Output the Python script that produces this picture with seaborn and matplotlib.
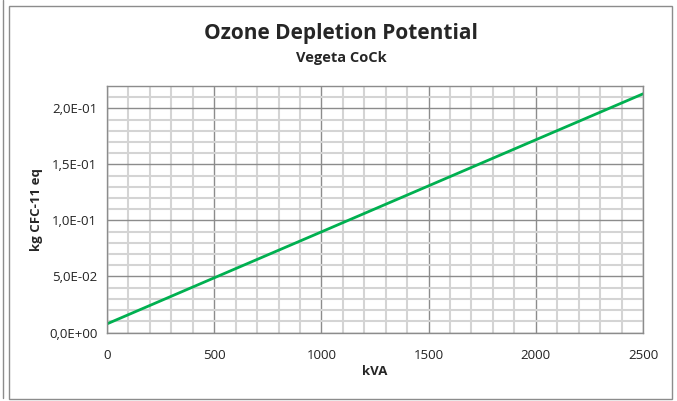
import numpy as np
import pandas as pd
import matplotlib
matplotlib.use('Agg')
import matplotlib.pyplot as plt
import seaborn as sns
from matplotlib.ticker import MultipleLocator, FuncFormatter
from matplotlib.patches import Rectangle
from matplotlib.lines import Line2D

# 数据
kva = [0, 500, 1000, 1500, 2000, 2500]
odp = [0.0077, 0.0488, 0.0898, 0.1309, 0.1720, 0.2130]

title = 'Ozone Depletion Potential'
subtitle = 'Vegeta CoCk'
x_label = 'kVA'
y_label = 'kg CFC-11 eq'

sns.set_style('white')
plt.rcParams['font.family'] = ['Open Sans', 'DejaVu Sans']

df = pd.DataFrame({'kVA': kva, 'ODP': odp})

fig = plt.figure(figsize=(6.77, 4.01), dpi=100)
W, H = 677, 401
ax = fig.add_axes([107 / W, 1 - 332.5 / H, (643 - 107) / W, (332.5 - 86) / H])

sns.lineplot(data=df, x='kVA', y='ODP', ax=ax, color='#00b050', linewidth=2.0)

ax.set_xlim(0, 2500)
ax.set_ylim(0, 0.22)
ax.xaxis.set_major_locator(MultipleLocator(500))
ax.xaxis.set_minor_locator(MultipleLocator(100))
ax.yaxis.set_major_locator(MultipleLocator(0.05))
ax.yaxis.set_minor_locator(MultipleLocator(0.01))


def sci_comma(v, pos):
    s = f'{v:.1E}'
    mant, exp = s.split('E')
    return f"{mant.replace('.', ',')}E{exp[0]}{exp[1:].zfill(2)}"


ax.yaxis.set_major_formatter(FuncFormatter(sci_comma))
ax.grid(which='minor', color='#d4d4d4', linewidth=1.5, zorder=0)
ax.grid(which='major', color='#8c8c8c', linewidth=1.0, zorder=1)
ax.set_axisbelow(True)

for side in ['left', 'bottom', 'right', 'top']:
    ax.spines[side].set_color('#8c8c8c')
    ax.spines[side].set_linewidth(1.0)

ax.tick_params(axis='both', which='major', length=4, width=1, color='#8c8c8c',
               labelsize=9.5, labelcolor='#222222', pad=3, direction='out')
ax.tick_params(axis='x', which='major', pad=8)
ax.tick_params(which='minor', length=0)

ax.set_xlabel(x_label, fontsize=9.5, fontweight='bold', labelpad=2)
ax.set_ylabel(y_label, fontsize=9.5, fontweight='bold', labelpad=4)

fig.text(341 / W, 1 - 33 / H, title, ha='center', va='center',
         fontsize=15, fontweight='bold')
fig.text(341 / W, 1 - 58 / H, subtitle, ha='center', va='center',
         fontsize=10.5, fontweight='bold')

# 外框
fig.patches.append(Rectangle((9 / W, 1 - 398.5 / H), (672 - 9) / W, (398.5 - 6) / H,
                             transform=fig.transFigure, fill=False,
                             edgecolor='#8c8c8c', linewidth=1.0))
fig.lines.append(Line2D([3 / W, 3 / W], [1 - 398 / H, 1.0], transform=fig.transFigure,
                        color='#8c8c8c', linewidth=1.0))

fig.savefig('out.png', dpi=100)
